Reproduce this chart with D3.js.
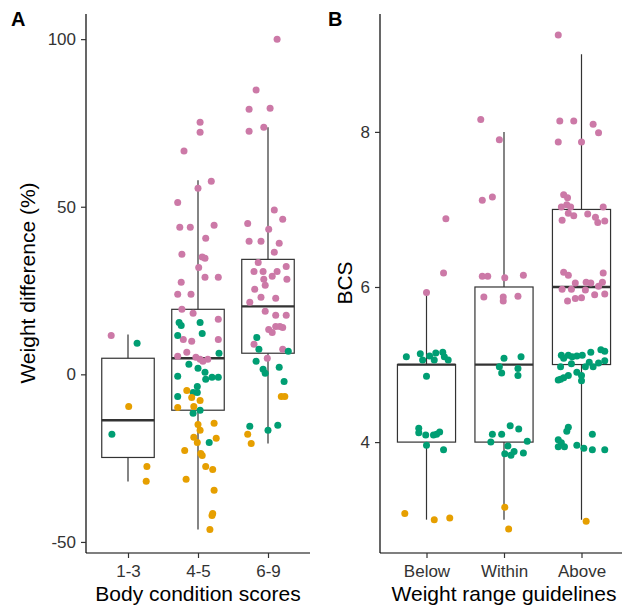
<!DOCTYPE html>
<html>
<head>
<meta charset="utf-8">
<script src="https://cdn.jsdelivr.net/npm/d3@7"></script>
<style>
  body { margin: 0; background: #fff; }
  svg text { font-family: "Liberation Sans", Arial, sans-serif; }
</style>
</head>
<body>
<div id="chart"></div>
<script>
// panel A: weight difference by body condition score group
var catsA = ["1-3", "4-5", "6-9"];
var yTicksA = [-50, 0, 50, 100];
// [q1, median, q3, whiskerLow, whiskerHigh]
var boxA = [
  [-24.8, -13.7, 4.8, -32, 11.9],
  [-10.7, 4.8, 19.4, -46.3, 57.9],
  [6.3, 20.3, 34.3, -20.6, 73.7]
];
// points: [category index, jitter, value]
var pinkA = [
  [0,-0.24,11.6],
  [1,-0.20,66.6],[1,0.03,72.2],[1,0.03,75.2],[1,0.19,57.6],[1,0.0,55.5],[1,-0.29,51.3],
  [1,-0.26,43.9],[1,-0.11,43.9],[1,0.23,44.5],[1,0.11,40.6],[1,-0.23,35.8],[1,0.06,35.0],
  [1,0.10,34.6],[1,0.01,31.9],[1,0.10,29.0],[1,0.29,29.0],[1,-0.24,27.5],[1,-0.29,23.9],
  [1,-0.10,23.9],[1,-0.23,19.4],[1,-0.07,18.2],[1,0.29,16.4],[1,-0.21,10.4],[1,0.29,10.4],
  [1,-0.09,9.9],[1,-0.16,6.6],[1,-0.29,5.4],[1,-0.03,5.1],[1,0.03,4.5],[1,0.14,4.5],[1,0.07,3.9],
  [2,0.13,100],[2,-0.17,84.8],[2,-0.27,79.1],[2,0.03,79.4],[2,-0.27,72.5],[2,-0.06,73.7],
  [2,0.09,49],[2,-0.29,45],[2,0.21,46.3],[2,0.01,43.3],[2,-0.27,39.7],[2,-0.10,39.7],
  [2,0.16,39.1],[2,0.09,36.4],[2,-0.14,33.4],[2,0.26,32.2],[2,-0.07,30.7],[2,-0.20,30.7],
  [2,0.13,30.7],[2,0.06,29.3],[2,-0.06,28.4],[2,0.27,28.4],[2,-0.04,26.6],[2,-0.19,25.4],
  [2,-0.10,23.0],[2,0.11,22.7],[2,-0.26,21.5],[2,-0.04,18.8],[2,0.11,17.6],[2,0.26,17.6],
  [2,0.01,13.4],[2,0.06,12.5],[2,0.11,14.3],[2,0.17,14.3],[2,0.21,14.0],[2,-0.20,9.0],
  [2,0.21,7.5],[2,-0.01,4.8]
];
var greenA = [
  [0,0.13,9.3],[0,-0.23,-17.9],
  [1,-0.27,15.5],[1,-0.24,14.6],[1,0.03,15.5],[1,0.06,12.2],[1,-0.29,11.6],[1,0.30,6.3],
  [1,-0.13,3.0],[1,0.0,1.8],[1,0.10,0.6],[1,0.20,-0.9],[1,0.29,-0.9],[1,-0.29,-0.6],
  [1,0.11,-1.5],[1,-0.29,-6.6],[1,-0.07,-5.4],[1,-0.01,-3.6],[1,-0.01,-5.4],
  [1,-0.07,-11.6],[1,0.03,-10.7],[1,0.16,-20.3],
  [2,-0.16,11],[2,-0.13,7.5],[2,0.29,6.9],[2,-0.17,3.9],[2,0.16,2.1],[2,-0.07,1.5],
  [2,-0.04,0.3],[2,0.23,-2.1],[2,-0.26,-15.5],[2,0.14,-15.2],[2,0.0,-16.7]
];
var orangeA = [
  [0,0.01,-9.6],[0,0.27,-27.5],[0,0.26,-31.9],
  [1,-0.16,-4.8],[1,-0.09,-6.9],[1,0.03,-7.8],[1,-0.29,-9.9],[1,-0.06,-9.6],[1,0.0,-15.0],
  [1,0.23,-14.6],[1,0.03,-16.7],[1,-0.06,-18.8],[1,-0.01,-20.3],[1,0.26,-19.1],
  [1,-0.19,-22.7],[1,0.04,-23.6],[1,0.06,-24.2],[1,0.11,-27.5],[1,0.21,-28.4],
  [1,-0.17,-31.3],[1,0.23,-34.6],[1,0.21,-41.5],[1,0.20,-42.1],[1,0.17,-46.3],
  [2,0.19,-6.6],[2,0.24,-6.6],[2,-0.29,-17.9],[2,-0.24,-20.6]
];

// panel B: BCS by weight range guideline
var catsB = ["Below", "Within", "Above"];
var yTicksB = [4, 6, 8];
var boxB = [
  [4, 5, 5, 3, 5.93],
  [4, 5, 6, 3, 8],
  [5, 6, 7, 3, 9]
];
var pinkB = [
  [0,0.25,6.88],[0,0.22,6.18],[0,0.0,5.93],
  [1,-0.30,8.16],[1,-0.06,7.90],[1,-0.28,7.12],[1,-0.15,7.16],[1,-0.28,6.14],[1,-0.21,6.14],
  [1,0.01,6.12],[1,0.25,6.15],[1,-0.26,5.87],[1,-0.01,5.87],[1,-0.01,5.82],[1,0.18,5.88],
  [2,-0.30,9.25],[2,-0.28,8.14],[2,-0.10,8.14],[2,0.15,8.10],[2,0.22,7.99],[2,-0.30,7.87],
  [2,0.0,7.87],[2,-0.23,7.19],[2,-0.18,7.15],[2,-0.19,7.06],[2,-0.14,7.03],[2,-0.26,7.03],
  [2,-0.17,6.95],[2,-0.10,6.92],[2,-0.25,6.86],[2,0.08,6.94],[2,0.18,6.90],[2,0.28,7.03],
  [2,0.21,6.83],[2,0.30,6.85],[2,-0.23,6.19],[2,-0.17,6.15],[2,-0.08,6.05],[2,0.06,6.06],
  [2,0.12,6.05],[2,0.22,6.01],[2,0.28,6.18],[2,0.27,6.06],[2,-0.25,5.97],[2,-0.13,5.97],
  [2,0.05,5.96],[2,0.17,5.90],[2,0.0,5.86],[2,-0.18,5.82],[2,-0.08,5.85],[2,0.30,5.91]
];
var greenB = [
  [0,-0.26,5.10],[0,-0.08,5.14],[0,-0.05,5.06],[0,0.04,5.11],[0,0.10,5.06],[0,0.12,5.15],
  [0,0.21,5.16],[0,0.23,5.10],[0,0.28,5.06],[0,0.0,4.85],[0,-0.10,4.18],[0,-0.10,4.12],
  [0,-0.01,4.09],[0,0.09,4.09],[0,0.13,4.10],[0,0.17,4.13],[0,0.0,3.96],[0,0.22,3.90],
  [1,0.0,5.08],[1,0.22,5.10],[1,-0.06,4.97],[1,0.18,4.95],[1,-0.03,4.89],[1,0.18,4.86],
  [1,0.08,4.21],[1,0.19,4.17],[1,-0.15,4.10],[1,-0.03,4.10],[1,-0.17,4.00],[1,0.30,4.01],
  [1,0.05,3.95],[1,0.13,3.88],[1,0.09,3.83],[1,0.25,3.86],[1,0.01,3.85],
  [2,-0.26,5.12],[2,-0.17,5.12],[2,-0.06,5.11],[2,0.01,5.12],[2,0.12,5.16],[2,0.25,5.19],
  [2,0.30,5.17],[2,-0.23,5.08],[2,-0.12,5.10],[2,0.10,5.03],[2,0.22,5.02],[2,0.30,5.05],
  [2,-0.27,4.97],[2,-0.13,5.01],[2,0.15,4.97],[2,0.05,4.97],[2,-0.23,4.83],[2,-0.17,4.86],
  [2,-0.06,4.90],[2,0.0,4.86],[2,-0.30,4.80],[2,-0.27,4.81],[2,0.0,4.79],
  [2,-0.17,4.19],[2,-0.19,4.14],[2,-0.30,4.03],[2,-0.26,3.99],[2,-0.22,3.94],[2,-0.30,3.94],
  [2,-0.06,3.96],[2,0.03,3.92],[2,0.14,4.10],[2,0.14,3.90],[2,0.30,3.90]
];
var orangeB = [
  [0,-0.28,3.08],[0,0.10,3.0],[0,0.30,3.02],
  [1,0.01,3.16],[1,0.06,2.88],
  [2,0.06,2.98]
];

var colors = { pink: "#CC79A7", green: "#009E73", orange: "#E69F00" };

var svg = d3.select("#chart").append("svg")
  .attr("width", 622)
  .attr("height", 608);

function panel(opt) {
  var x = d3.scaleLinear().domain([-0.6, 2.6]).range([opt.x0, opt.x1]);
  var y = d3.scaleLinear().domain(opt.yDomain).range([553, 14]);
  var bw = 0.375;
  var g = svg.append("g");

  // whiskers
  g.selectAll(".whisker").data(opt.box).enter().append("line")
    .attr("x1", function(d, i) { return x(i); })
    .attr("x2", function(d, i) { return x(i); })
    .attr("y1", function(d) { return y(d[3]); })
    .attr("y2", function(d) { return y(d[4]); })
    .attr("stroke", "#333").attr("stroke-width", 1.2);

  g.selectAll(".box").data(opt.box).enter().append("rect")
    .attr("x", function(d, i) { return x(i - bw); })
    .attr("width", function(d, i) { return x(i + bw) - x(i - bw); })
    .attr("y", function(d) { return y(d[2]); })
    .attr("height", function(d) { return y(d[0]) - y(d[2]); })
    .attr("fill", "#fff").attr("stroke", "#333").attr("stroke-width", 1.2);

  g.selectAll(".median").data(opt.box).enter().append("line")
    .attr("x1", function(d, i) { return x(i - bw); })
    .attr("x2", function(d, i) { return x(i + bw); })
    .attr("y1", function(d) { return y(d[1]); })
    .attr("y2", function(d) { return y(d[1]); })
    .attr("stroke", "#333").attr("stroke-width", 2.3);

  // points
  [["pink", opt.pink], ["green", opt.green], ["orange", opt.orange]].forEach(function(s) {
    g.selectAll(".pt-" + s[0]).data(s[1]).enter().append("circle")
      .attr("cx", function(d) { return x(d[0] + d[1]); })
      .attr("cy", function(d) { return y(d[2]); })
      .attr("r", 3.5)
      .attr("fill", colors[s[0]]);
  });

  // axes
  var ya = g.append("g").attr("transform", "translate(" + opt.x0 + ",0)")
    .call(d3.axisLeft(y).tickValues(opt.yTicks).tickSize(5).tickPadding(5)
      .tickFormat(function(d) { return String(d); }));
  var xa = g.append("g").attr("transform", "translate(0,553)")
    .call(d3.axisBottom(x).tickValues([0, 1, 2]).tickSize(5).tickPadding(7)
      .tickFormat(function(d) { return opt.cats[d]; }));
  [ya, xa].forEach(function(a) {
    a.select(".domain").attr("stroke", "#000").attr("stroke-width", 1.2);
    a.selectAll(".tick line").attr("stroke", "#333").attr("stroke-width", 1.2);
    a.selectAll(".tick text").attr("font-size", 17).attr("fill", "#333")
      .style("font-family", "'Liberation Sans', Arial, sans-serif");
  });
  xa.select(".domain").attr("d", "M" + opt.x0 + ",0H" + opt.x1);
  ya.select(".domain").attr("d", "M0,553V14");

  g.append("text").attr("x", opt.xTitleX).attr("y", 601)
    .attr("text-anchor", "middle").attr("font-size", 21).text(opt.xTitle);
  g.append("text")
    .attr("transform", "translate(" + opt.yTitleX + "," + 283 + ") rotate(-90)")
    .attr("text-anchor", "middle").attr("font-size", 21).text(opt.yTitle);
  g.append("text").attr("x", opt.tagX).attr("y", 26)
    .attr("font-size", 20).attr("font-weight", "bold").text(opt.tag);
}

panel({
  x0: 86, x1: 310, yDomain: [-53.3, 107.5], yTicks: yTicksA, cats: catsA,
  box: boxA, pink: pinkA, green: greenA, orange: orangeA,
  xTitle: "Body condition scores", xTitleX: 198,
  yTitle: "Weight difference (%)", yTitleX: 35, tag: "A", tagX: 11
});
panel({
  x0: 380, x1: 628, yDomain: [2.57, 9.52], yTicks: yTicksB, cats: catsB,
  box: boxB, pink: pinkB, green: greenB, orange: orangeB,
  xTitle: "Weight range guidelines", xTitleX: 504,
  yTitle: "BCS", yTitleX: 352, tag: "B", tagX: 328
});
</script>
</body>
</html>
